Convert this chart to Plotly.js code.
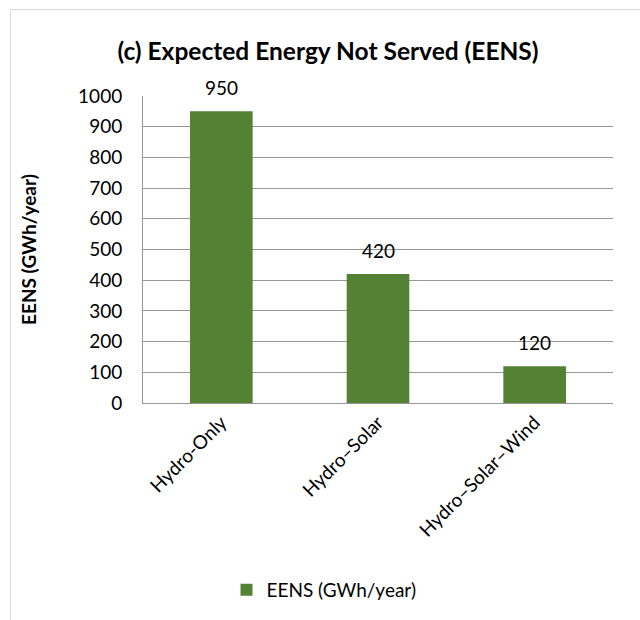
<!DOCTYPE html>
<html>
<head>
<meta charset="utf-8">
<script src="https://cdn.plot.ly/plotly-3.0.1.min.js"></script>
<style>
  html, body { margin: 0; padding: 0; background: #ffffff; }
  #chart { width: 640px; height: 620px; position: absolute; left: 0; top: 0; }
  #frame { position: absolute; left: 10px; top: 9px; width: 700px; height: 700px;
           border: 1px solid #d9d9d9; pointer-events: none; }
</style>
</head>
<body>
<div id="chart"></div>
<div id="frame"></div>
<script>
const categories = ["Hydro-Only", "Hydro\u2013Solar", "Hydro\u2013Solar\u2013Wind"];
const eensValues = [950, 420, 120];
const seriesName = "EENS (GWh/year)";
const tickValues = [0, 100, 200, 300, 400, 500, 600, 700, 800, 900, 1000];

const FONT = "Lato, 'Open Sans', sans-serif";
const barColor = "#548235";

const trace = {
  type: "bar",
  x: categories,
  y: eensValues,
  name: seriesName,
  marker: { color: barColor },
  showlegend: true,
  hoverinfo: "none"
};

const annotations = categories.map((c, i) => ({
  x: c, y: eensValues[i], xref: "x", yref: "y",
  text: String(eensValues[i]), showarrow: false,
  yanchor: "bottom", yshift: 10,
  font: { family: FONT, size: 19, color: "#000000" }
}));

const layout = {
  width: 640, height: 620,
  margin: { l: 143, r: 27, t: 96, b: 217 },
  paper_bgcolor: "#ffffff",
  plot_bgcolor: "#ffffff",
  bargap: 0.6,
  font: { family: FONT, size: 19, color: "#000000" },
  title: {
    text: "<b>(c) Expected Energy Not Served (EENS)</b>",
    font: { family: FONT, size: 24.5, color: "#000000" },
    xref: "container", yref: "container",
    x: 328 / 640, xanchor: "center",
    y: 1 - 51 / 620, yanchor: "middle"
  },
  xaxis: {
    type: "category",
    tickangle: -45,
    tickfont: { family: FONT, size: 19, color: "#000000" },
    showgrid: false,
    showline: true, linecolor: "#969696", linewidth: 1,
    ticks: "", zeroline: false
  },
  yaxis: {
    range: [0, 1000],
    tickvals: tickValues,
    ticktext: tickValues.map(String),
    tickfont: { family: FONT, size: 19, color: "#000000" },
    showgrid: true, gridcolor: "#969696", gridwidth: 1,
    showline: true, linecolor: "#969696", linewidth: 1,
    zeroline: false, ticks: "",
    ticklabelstandoff: 16,
    title: {
      text: "<b>EENS (GWh/year)</b>",
      font: { family: FONT, size: 19, color: "#000000" },
      standoff: 36
    }
  },
  legend: {
    orientation: "h",
    xref: "container", yref: "container",
    x: 324 / 640, xanchor: "center",
    y: 1 - 590 / 620, yanchor: "middle",
    font: { family: FONT, size: 19, color: "#000000" },
    itemwidth: 30
  },
  annotations: annotations
};

Plotly.newPlot("chart", [trace], layout, { displayModeBar: false, staticPlot: true });
</script>
</body>
</html>
